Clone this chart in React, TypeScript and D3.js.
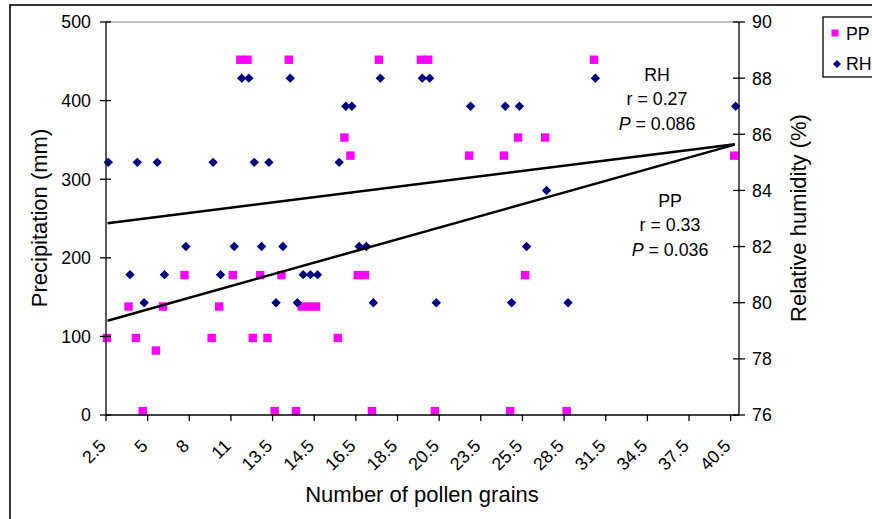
import React from "react";
import * as d3 from "d3";

const xTickValues = [2.5, 5, 7.5, 10, 12.5, 15, 17.5, 20, 22.5, 25, 27.5, 30, 32.5, 35, 37.5, 40];
const xTickLabels = ["2.5", "5", "8", "11", "13.5", "14.5", "16.5", "18.5", "20.5", "23.5", "25.5", "28.5", "31.5", "34.5", "37.5", "40.5"];
const leftTicks = [0, 100, 200, 300, 400, 500];
const rightTicks = [76, 78, 80, 82, 84, 86, 88, 90];

const pollen = [2.59, 3.89, 4.33, 4.74, 5.53, 5.96, 7.25, 8.88, 9.33, 10.15, 10.6, 11.03, 11.35, 11.79, 12.23, 12.66, 13.07, 13.51, 13.94, 14.29, 14.72, 15.15, 16.45, 16.85, 17.21, 17.65, 18.08, 18.5, 18.92, 21.44, 21.88, 22.28, 24.34, 26.42, 26.8, 27.27, 27.7, 28.9, 30.19, 31.83, 40.25];
const pp = [98, 138, 98, 5, 82, 138, 178, 98, 138, 178, 452, 452, 98, 178, 98, 5, 178, 452, 5, 138, 138, 138, 98, 353, 330, 178, 178, 5, 452, 452, 452, 5, 330, 330, 5, 353, 178, 353, 5, 452, 330];
const rh = [85, 81, 85, 80, 85, 81, 82, 85, 81, 82, 88, 88, 85, 82, 85, 80, 82, 88, 80, 81, 81, 81, 85, 87, 87, 82, 82, 80, 88, 88, 88, 80, 87, 87, 80, 87, 82, 84, 80, 88, 87];

const ppTrend = { intercept: 104.6, slope: 5.948 };
const rhTrend = { intercept: 82.64, slope: 0.0746 };

const rhNote = ["RH", "r = 0.27", "0.086"];
const ppNote = ["PP", "r = 0.33", "0.036"];

const FONT = "Arial, 'Liberation Sans', sans-serif";
const PINK = "#FF00FF";
const NAVY = "#000080";

export default function App() {
  const W = 872, H = 519;
  const L = 106, R = 739, T = 22, B = 415;
  const x = d3.scaleLinear().domain([2.5, 40.5]).range([L, R]);
  const yL = d3.scaleLinear().domain([0, 500]).range([B, T]);
  const yR = d3.scaleLinear().domain([76, 90]).range([B, T]);

  const x0 = pollen[0], x1 = pollen[pollen.length - 1];
  const line = d3.line<[number, number]>().x(d => d[0]).y(d => d[1]);
  const ppLine = line([[x(x0), yL(ppTrend.intercept + ppTrend.slope * x0)], [x(x1), yL(ppTrend.intercept + ppTrend.slope * x1)]]);
  const rhLine = line([[x(x0), yR(rhTrend.intercept + rhTrend.slope * x0)], [x(x1), yR(rhTrend.intercept + rhTrend.slope * x1)]]);

  const diamond = (cx: number, cy: number, r = 4.7) => `M${cx},${cy - r}L${cx + r},${cy}L${cx},${cy + r}L${cx - r},${cy}Z`;

  return (
    <svg width={W} height={H} style={{ position: "absolute", left: 0, top: 0, background: "#fff" }} fontFamily={FONT}>
      <rect x={0} y={0} width={W} height={H} fill="#fff" />
      <rect x={10} y={5} width={W + 20} height={H + 20} fill="none" stroke="#000" strokeWidth={1.6} />
      {/* plot area border */}
      <line x1={L} x2={R} y1={T} y2={T} stroke="#808080" strokeWidth={1} />

      {/* markers */}
      {pollen.map((v, i) => (
        <rect key={"p" + i} x={x(v) - 4.8} y={yL(pp[i]) - 4.2} width={8.4} height={8.4} fill={PINK} />
      ))}
      {pollen.map((v, i) => (
        <path key={"r" + i} d={diamond(x(v) + 0.8, yR(rh[i]))} fill={NAVY} />
      ))}

      {/* trend lines */}
      <path d={ppLine || ""} stroke="#000" strokeWidth={2.5} fill="none" />
      <path d={rhLine || ""} stroke="#000" strokeWidth={2.5} fill="none" />

      {/* axes */}
      <line x1={L} x2={L} y1={T} y2={B} stroke="#000" strokeWidth={1.3} />
      <line x1={R} x2={R} y1={T} y2={B} stroke="#000" strokeWidth={1.3} />
      <line x1={L} x2={R} y1={B} y2={B} stroke="#000" strokeWidth={1.3} />

      {leftTicks.map(t => (
        <g key={"lt" + t}>
          <line x1={L - 6} x2={L + 5} y1={yL(t)} y2={yL(t)} stroke="#000" strokeWidth={1.3} />
          <text x={91} y={yL(t)} dy="0.36em" textAnchor="end" fontSize={17.8} fill="#000">{t}</text>
        </g>
      ))}
      {rightTicks.map(t => (
        <g key={"rt" + t}>
          <line x1={R - 6} x2={R + 6} y1={yR(t)} y2={yR(t)} stroke="#000" strokeWidth={1.3} />
          <text x={752} y={yR(t)} dy="0.36em" textAnchor="start" fontSize={17.8} fill="#000">{t}</text>
        </g>
      ))}
      {xTickValues.map((t, i) => (
        <g key={"xt" + t}>
          <line x1={x(t)} x2={x(t)} y1={B} y2={B + 6} stroke="#000" strokeWidth={1.3} />
          <text transform={`translate(${x(t) + 1},447) rotate(-45)`} textAnchor="end" fontSize={17.8} fill="#000">{xTickLabels[i]}</text>
        </g>
      ))}

      {/* axis titles */}
      <text transform={`translate(47,218) rotate(-90)`} textAnchor="middle" fontSize={22} fill="#000">Precipitation (mm)</text>
      <text transform={`translate(806,218) rotate(-90)`} textAnchor="middle" fontSize={22} fill="#000">Relative humidity (%)</text>
      <text x={422} y={502} textAnchor="middle" fontSize={22} fill="#000">Number of pollen grains</text>

      {/* annotations */}
      <g fontSize={17.8} fill="#000" textAnchor="middle">
        <text x={657} y={81}>{rhNote[0]}</text>
        <text x={657} y={105}>{rhNote[1]}</text>
        <text x={657} y={130}><tspan fontStyle="italic">P</tspan> = {rhNote[2]}</text>
        <text x={670} y={207}>{ppNote[0]}</text>
        <text x={670} y={231}>{ppNote[1]}</text>
        <text x={670} y={256}><tspan fontStyle="italic">P</tspan> = {ppNote[2]}</text>
      </g>

      {/* legend */}
      <rect x={823} y={17} width={80} height={60} fill="#fff" stroke="#000" strokeWidth={1.3} />
      <rect x={831.5} y={29.5} width={7} height={7} fill={PINK} />
      <text x={846} y={40} fontSize={17.8} fill="#000">PP</text>
      <path d={diamond(837, 64, 4)} fill={NAVY} />
      <text x={846} y={70} fontSize={17.8} fill="#000">RH</text>
    </svg>
  );
}
